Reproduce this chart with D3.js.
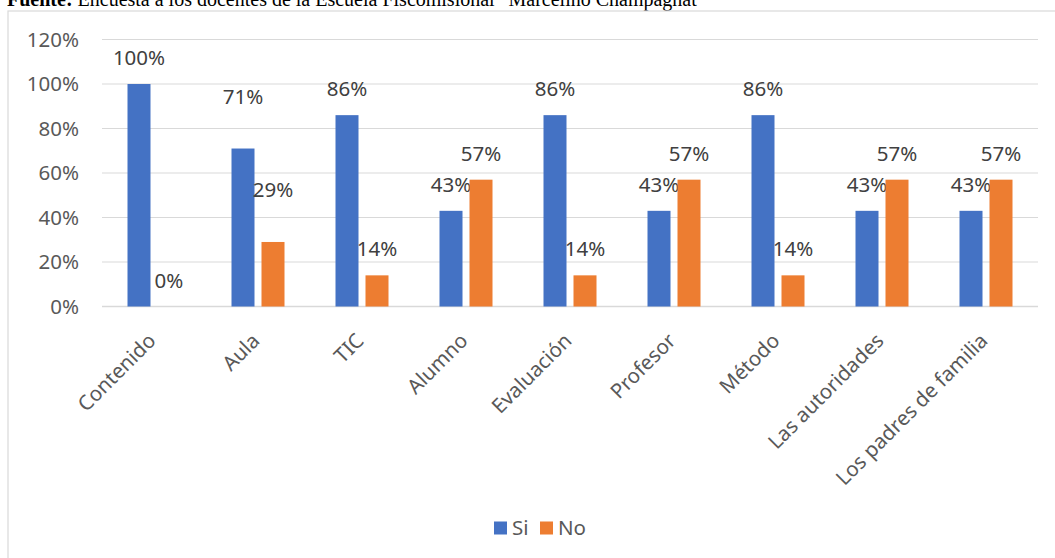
<!DOCTYPE html>
<html>
<head>
<meta charset="utf-8">
<script src="https://cdn.jsdelivr.net/npm/d3@7"></script>
<style>
  body { margin: 0; background: #fff; }
  svg { display: block; }
</style>
</head>
<body>
<script>
  // data
  var categories = ["Contenido", "Aula", "TIC", "Alumno", "Evaluación", "Profesor", "Método", "Las autoridades", "Los padres de familia"];
  var si = [1.00, 0.71, 0.86, 0.43, 0.86, 0.43, 0.86, 0.43, 0.43];
  var no = [0.00, 0.29, 0.14, 0.57, 0.14, 0.57, 0.14, 0.57, 0.57];
  var seriesNames = ["Si", "No"];
  var seriesColors = ["#4472c4", "#ed7d31"];
  var yTicks = [0, 0.2, 0.4, 0.6, 0.8, 1.0, 1.2];

  var W = 1055, H = 558;
  var plotLeft = 102, plotRight = 1038, plotTop = 39.5, plotBottom = 306.5;
  var font = "'Noto Sans', 'Open Sans', sans-serif";

  var svg = d3.select("body").append("svg")
    .attr("width", W)
    .attr("height", H);

  // caption above the chart, cut at the top like the original
  var cap = svg.append("text")
    .attr("x", 7).attr("y", 6)
    .attr("font-family", "'Liberation Serif', 'Times New Roman', serif")
    .attr("font-size", 20)
    .attr("fill", "#000");
  cap.append("tspan").attr("font-weight", "bold").text("Fuente:");
  cap.append("tspan").text(" Encuesta a los docentes de la Escuela Fiscomisional \u201cMarcelino Champagnat\u201d");

  // chart frame
  svg.append("rect")
    .attr("x", 8).attr("y", 11)
    .attr("width", W + 20).attr("height", H + 20)
    .attr("fill", "none")
    .attr("stroke", "#d9d9d9")
    .attr("stroke-width", 1.2);

  var x = d3.scaleBand().domain(categories).range([plotLeft, plotRight]);
  var y = d3.scaleLinear().domain([0, 1.2]).range([plotBottom, plotTop]);

  // gridlines
  svg.append("g").selectAll("line")
    .data(yTicks)
    .enter()
    .append("line")
    .attr("x1", plotLeft).attr("x2", plotRight)
    .attr("y1", function(d) { return y(d); })
    .attr("y2", function(d) { return y(d); })
    .attr("stroke", "#d9d9d9")
    .attr("stroke-width", function(d) { return d == 0 ? 1.5 : 1.2; });

  // y tick labels
  svg.append("g").selectAll("text")
    .data(yTicks)
    .enter()
    .append("text")
    .attr("x", 79)
    .attr("y", function(d) { return y(d); })
    .attr("dy", "0.35em")
    .attr("text-anchor", "end")
    .attr("font-family", font)
    .attr("font-size", 20.5)
    .attr("fill", "#595959")
    .text(function(d) { return Math.round(d * 100) + "%"; });

  // bars: each series offset from the category centre
  var barW = 23, gap = 3.5;
  function barX(i, s) {
    var c = x(categories[i]) + x.bandwidth() / 2;
    return s == 0 ? c - gap - barW : c + gap;
  }

  var series = [si, no];
  series.forEach(function(vals, s) {
    var g = svg.append("g");
    g.selectAll("rect")
      .data(vals)
      .enter()
      .append("rect")
      .attr("x", function(d, i) { return barX(i, s); })
      .attr("y", function(d) { return y(d); })
      .attr("width", barW)
      .attr("height", function(d) { return plotBottom - y(d); })
      .attr("fill", seriesColors[s]);

    g.selectAll("text")
      .data(vals)
      .enter()
      .append("text")
      .attr("x", function(d, i) { return barX(i, s) + barW / 2; })
      .attr("y", function(d, i) {
        // Aula labels sit higher in the original
        var off = categories[i] == "Aula" ? 45 : 19;
        return y(d) - off;
      })
      .attr("text-anchor", "middle")
      .attr("font-family", font)
      .attr("font-size", 20.5)
      .attr("fill", "#404040")
      .text(function(d) { return Math.round(d * 100) + "%"; });
  });

  // rotated category labels
  svg.append("g").selectAll("text")
    .data(categories)
    .enter()
    .append("text")
    .attr("transform", function(d) {
      return "translate(" + (x(d) + x.bandwidth() / 2 + 3) + "," + 342 + ") rotate(-45)";
    })
    .attr("text-anchor", "end")
    .attr("font-family", font)
    .attr("font-size", 20.5)
    .attr("fill", "#595959")
    .text(function(d) { return d; });

  // legend
  var legX = [494, 540];
  var leg = svg.append("g");
  seriesNames.forEach(function(n, s) {
    leg.append("rect")
      .attr("x", legX[s]).attr("y", 521.5)
      .attr("width", 13).attr("height", 13)
      .attr("fill", seriesColors[s]);
    leg.append("text")
      .attr("x", legX[s] + 18).attr("y", 528)
      .attr("dy", "0.35em")
      .attr("font-family", font)
      .attr("font-size", 20.5)
      .attr("fill", "#595959")
      .text(n);
  });
</script>
</body>
</html>
